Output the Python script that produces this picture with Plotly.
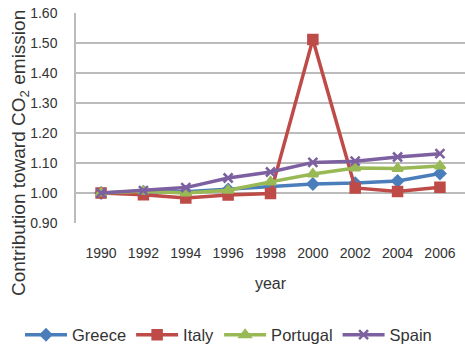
import plotly.graph_objects as go

years = ["1990", "1992", "1994", "1996", "1998", "2000", "2002", "2004", "2006"]
greece = [1.000, 1.004, 1.004, 1.012, 1.022, 1.030, 1.033, 1.040, 1.065]
italy = [1.000, 0.994, 0.983, 0.993, 0.998, 1.512, 1.017, 1.005, 1.019]
portugal = [1.000, 1.006, 1.000, 1.009, 1.037, 1.063, 1.083, 1.082, 1.090]
spain = [1.000, 1.008, 1.018, 1.050, 1.070, 1.102, 1.106, 1.120, 1.131]

y_ticks = [0.90, 1.00, 1.10, 1.20, 1.30, 1.40, 1.50, 1.60]

series = [
    ("Greece", greece, "#4A7EBB", "diamond", 8),
    ("Italy", italy, "#BE4B48", "square", 9),
    ("Portugal", portugal, "#98B954", "triangle-up", 9),
    ("Spain", spain, "#7D60A0", "x-thin", 9),
]

# plot area geometry (pixels)
L, T, W, H = 76, 13, 389, 210

fig = go.Figure()
for name, vals, color, sym, size in series:
    fig.add_trace(go.Scatter(
        x=years, y=vals, name=name, mode="lines+markers",
        line=dict(color=color, width=3.5),
        marker=dict(symbol=sym, size=size, color=color,
                    line=dict(color=color, width=2.5)),
    ))

font_family = "Liberation Sans, Arial, sans-serif"
fig.update_layout(
    width=465, height=350,
    margin=dict(l=L, r=465 - L - W, t=T, b=350 - T - H, autoexpand=False),
    paper_bgcolor="white", plot_bgcolor="white",
    font=dict(family=font_family, size=14, color="#333333"),
    showlegend=True,
    legend=dict(orientation="h",
                x=(20 - L) / W, xref="paper", xanchor="left",
                y=(T + H - 335) / H, yref="paper", yanchor="middle",
                font=dict(size=16.5, color="#333333"), itemwidth=42,
                tracegroupgap=0),
    xaxis=dict(
        type="category", showgrid=False, zeroline=False, automargin=False,
        showline=False, ticks="", ticklabelstandoff=20,
        tickfont=dict(size=14),
        title=dict(text="year", font=dict(size=16), standoff=17),
    ),
    yaxis=dict(
        range=[0.90, 1.60], tickvals=y_ticks, automargin=False,
        ticktext=[f"{v:.2f}" for v in y_ticks],
        showgrid=True, gridcolor="#BBBBBB", gridwidth=1.5,
        zeroline=False, showline=True, linecolor="#BBBBBB", linewidth=1.5,
        ticks="", ticklabelstandoff=14, tickfont=dict(size=14),
    ),
    # y-axis title as a rotated annotation, centred a little below the plot middle
    annotations=[dict(
        text="Contribution toward CO<sub>2</sub> emission",
        textangle=-90, font=dict(size=19, color="#333333"),
        xref="paper", x=-L / W, xanchor="left", xshift=6,
        yref="paper", y=(T + H - 153) / H, yanchor="middle",
        showarrow=False,
    )],
)

fig.write_html("out.html")
